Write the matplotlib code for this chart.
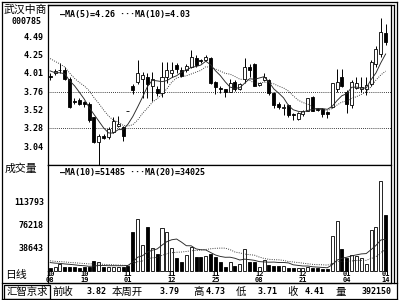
import numpy as np
import matplotlib
matplotlib.use('Agg')
import matplotlib.pyplot as plt
from matplotlib.patches import Rectangle
from matplotlib.lines import Line2D
from matplotlib.transforms import blended_transform_factory

# 武汉中商 000785 daily K-line, 2010-10-08 .. 2011-01-14
stock_name = '武汉中商'
stock_code = '000785'

opens = [3.97, 4.00, 4.04, 4.05, 3.93, 3.64, 3.65, 3.62, 3.60, 3.42,
         3.10, 3.18, 3.16, 3.23, 3.31, 3.29, 3.51, 3.84, 3.89, 3.93,
         3.95, 3.84, 3.80, 3.74, 3.96, 4.00, 4.11, 4.05, 4.05, 4.09,
         4.20, 4.18, 4.18, 4.20, 3.89, 3.81, 3.79, 3.76, 3.89, 3.80,
         3.93, 4.08, 4.13, 3.85, 3.92, 3.91, 3.74, 3.60, 3.55, 3.58,
         3.46, 3.40, 3.46, 3.51, 3.69, 3.53, 3.53, 3.49, 3.56, 3.79,
         3.95, 3.76, 3.58, 3.81, 3.79, 3.79, 3.86, 4.12, 4.26, 4.53]
highs = [4.00, 4.06, 4.14, 4.08, 3.95, 3.67, 3.67, 3.64, 3.62, 3.43,
         3.20, 3.20, 3.29, 3.42, 3.44, 3.30, 3.51, 3.86, 4.18, 4.02,
         4.00, 4.02, 3.84, 4.15, 4.15, 4.15, 4.14, 4.08, 4.13, 4.31,
         4.24, 4.19, 4.25, 4.22, 3.90, 3.83, 3.80, 3.93, 3.91, 3.88,
         4.20, 4.12, 4.14, 3.88, 4.00, 3.93, 3.75, 3.62, 3.60, 3.60,
         3.48, 3.49, 3.52, 3.68, 3.70, 3.54, 3.54, 3.51, 3.88, 4.06,
         4.06, 3.78, 3.92, 3.95, 3.95, 3.95, 4.18, 4.36, 4.73, 4.66]
lows = [3.92, 3.98, 4.00, 3.91, 3.55, 3.59, 3.58, 3.56, 3.36, 3.08,
        2.78, 3.13, 3.14, 3.21, 3.29, 3.11, 3.51, 3.73, 3.86, 3.68,
        3.68, 3.63, 3.70, 3.69, 3.88, 3.95, 4.00, 3.95, 4.02, 4.07,
        4.08, 4.14, 4.17, 3.86, 3.73, 3.74, 3.69, 3.75, 3.77, 3.78,
        3.87, 3.96, 3.83, 3.83, 3.90, 3.72, 3.55, 3.53, 3.45, 3.43,
        3.39, 3.38, 3.44, 3.50, 3.50, 3.50, 3.42, 3.41, 3.54, 3.76,
        3.82, 3.48, 3.55, 3.79, 3.75, 3.71, 3.83, 4.09, 4.22, 4.38]
closes = [3.95, 4.03, 4.05, 3.93, 3.56, 3.62, 3.60, 3.60, 3.38, 3.10,
          3.17, 3.15, 3.27, 3.37, 3.33, 3.17, 3.51, 3.78, 4.00, 3.98,
          3.86, 3.93, 3.74, 3.95, 4.05, 4.05, 4.06, 3.97, 4.10, 4.22,
          4.11, 4.16, 4.22, 3.87, 3.82, 3.79, 3.75, 3.87, 3.79, 3.86,
          4.09, 4.04, 3.84, 3.87, 3.95, 3.74, 3.58, 3.56, 3.56, 3.45,
          3.45, 3.48, 3.51, 3.67, 3.51, 3.52, 3.47, 3.46, 3.87, 3.89,
          3.84, 3.60, 3.89, 3.88, 3.82, 3.85, 4.15, 4.33, 4.55, 4.41]
volumes = [4000, 5500, 10000, 6600, 6600, 6600, 4400, 6600, 6600, 16600,
           13800, 5500, 6600, 6600, 6600, 6600, 8300, 64700, 85700, 41500,
           73000, 37000, 27600, 70000, 64700, 37600, 20400, 13800, 26000, 39800,
           22000, 22000, 24900, 27600, 23200, 13800, 6600, 14900, 8300, 11000,
           36000, 13800, 13800, 6600, 17700, 9400, 8300, 8300, 8300, 4000,
           4400, 3900, 3900, 6600, 4400, 4400, 2800, 2800, 57000, 81300,
           36000, 21000, 26000, 24000, 20000, 10000, 68000, 72000, 148000, 92000]

# closes / volumes before the first visible bar (only used for the moving averages)
prior_closes = [4.40, 4.38, 4.36, 4.35, 4.31, 4.15, 4.05, 4.00, 4.02]
prior_volumes = [22000, 20000, 18000, 21000, 19000, 17000, 20000, 18000, 16000, 19000,
                 15000, 14000, 16000, 13000, 15000, 14000, 12000, 16000, 13000]

price_ticks = [3.04, 3.28, 3.52, 3.76, 4.01, 4.25, 4.49]
price_grid = [3.28, 3.76]
vol_ticks = [38643, 76218, 113793]
date_idx = [0, 7, 16, 25, 34, 43, 52, 61, 69]
date_months = ['10', '10', '11', '11', '11', '12', '12', '01', '01']
date_days = ['08', '19', '01', '12', '25', '08', '21', '04', '14']

price_legend = '—MA(5)=4.26 ···MA(10)=4.03'
vol_legend = '—MA(10)=51485 ···MA(20)=34025'
info_items = [('前收', 52, 'cjk'), ('3.82', 107, 'num'), ('本周开', 112, 'cjk'), ('3.79', 180, 'num'),
              ('高', 193, 'cjk'), ('4.73', 226, 'num'), ('低', 236, 'cjk'), ('3.71', 278, 'num'),
              ('收', 287, 'cjk'), ('4.41', 325, 'num'), ('量', 336, 'cjk'), ('392150', 392, 'num')]

CJK = ['Noto Sans CJK SC', 'DejaVu Sans']
MONO = dict(family='DejaVu Sans Mono', weight='bold', size=6)


def fx(px):
    return px / 400.0


def fy(py):
    return 1 - py / 300.0


def moving_avg(values, n, keep):
    v = np.asarray(values, dtype=float)
    ma = np.convolve(v, np.ones(n) / n, mode='valid')
    return ma[-keep:]


n = len(closes)
x = np.arange(n)
w = 0.62

fig = plt.figure(figsize=(4, 3), dpi=100)
fig.patch.set_facecolor('white')

ax = fig.add_axes([fx(48), fy(165), fx(390.5) - fx(48), fy(4.5) - fy(165)])
axv = fig.add_axes([fx(48), fy(283), fx(390.5) - fx(48), fy(165) - fy(283)])

# ---- price panel ----
for i in range(n):
    o, h, l, c = opens[i], highs[i], lows[i], closes[i]
    up = c > o
    ax.vlines(x[i], l, h, color='k', lw=0.7, zorder=2)
    ax.add_patch(Rectangle((x[i] - w / 2, min(o, c)), w, abs(c - o),
                           facecolor='white' if up else 'black', edgecolor='k', lw=0.6, zorder=3))

all_c = prior_closes + closes
ax.plot(x, moving_avg(all_c, 5, n), color='0.15', lw=0.65, zorder=4)
ax.plot(x, moving_avg(all_c, 10, n), color='0.15', lw=0.65, ls=(0, (1, 1.5)), zorder=4)
for g in price_grid:
    ax.axhline(g, color='k', lw=0.6, ls=(0, (1, 1.5)), zorder=1)

ax.set_xlim(-0.45, 70.0)
ax.set_ylim(2.79, 4.912)
ax.set_xticks([])
ax.set_yticks(price_ticks)
ax.set_yticklabels(['%.2f' % t for t in price_ticks], **MONO)
ax.tick_params(axis='y', length=0, pad=3)
ax.text(0.035, 0.935, price_legend, transform=ax.transAxes, va='center', ha='left', **MONO)

# ---- volume panel ----
all_v = prior_volumes + volumes
vcol = ['white' if closes[i] > opens[i] else 'black' for i in range(n)]
axv.bar(x, volumes, width=w, color=vcol, edgecolor='k', lw=0.6, zorder=3)
axv.plot(x, moving_avg(all_v, 10, n), color='0.15', lw=0.65, zorder=4)
axv.plot(x, moving_avg(all_v, 20, n), color='0.15', lw=0.65, ls=(0, (1, 1.5)), zorder=4)
axv.set_xlim(-0.45, 70.0)
axv.set_ylim(-20700, 175000)
axv.set_xticks([])
axv.set_yticks(vol_ticks)
axv.set_yticklabels([str(t) for t in vol_ticks], **MONO)
axv.tick_params(axis='y', length=0, pad=3)
axv.text(0.035, 0.94, vol_legend, transform=axv.transAxes, va='center', ha='left', **MONO)

# two-row date labels under the bars (month above day), drawn in figure pixels
for i, m, d in zip(date_idx, date_months, date_days):
    px = 48 + (i + 0.45) / 70.45 * (390.5 - 48)
    fig.text(fx(px), fy(273.8), m, family='DejaVu Sans Mono', weight='bold', size=5,
             ha='center', va='center')
    fig.text(fx(px), fy(279.6), d, family='DejaVu Sans Mono', weight='bold', size=5,
             ha='center', va='center')

for a in (ax, axv):
    for s in a.spines.values():
        s.set_linewidth(0.9)
        s.set_color('k')

# ---- left column and info bar ----
fig.text(fx(25), fy(10), stock_name, family=CJK, size=7.8, ha='center', va='center')
fig.text(fx(27), fy(22), stock_code, ha='center', va='center', **MONO)
fig.text(fx(5), fy(169), '成交量', family=CJK, size=7.8, ha='left', va='center')
fig.text(fx(5), fy(275), '日线', family=CJK, size=7.8, ha='left', va='center')

fig.text(fx(27.5), fy(291.5), '汇智京求', family=CJK, size=7.5, ha='center', va='center')
fig.patches.append(Rectangle((fx(4), fy(298.5)), fx(50) - fx(4), fy(284.5) - fy(298.5),
                             transform=fig.transFigure, fill=False, edgecolor='k', lw=0.9))
for txt, px, kind in info_items:
    if kind == 'cjk':
        fig.text(fx(px), fy(291.5), txt, family=CJK, size=7.5, ha='left', va='center')
    else:
        fig.text(fx(px), fy(291.5), txt, ha='right', va='center', **MONO)

# ---- screen frame ----
frame = [((1.5, 1.5), (397, 1.5)), ((1.5, 1.5), (1.5, 299)), ((1.5, 299), (397, 299)),
         ((397, 1.5), (397, 299)), ((393.5, 4.5), (393.5, 283)), ((48, 4.5), (393.5, 4.5)),
         ((1.5, 283), (397, 283))]
for (x0, y0), (x1, y1) in frame:
    fig.lines.append(Line2D([fx(x0), fx(x1)], [fy(y0), fy(y1)], transform=fig.transFigure,
                            color='k', lw=0.9))

fig.savefig('out.png', dpi=100)
